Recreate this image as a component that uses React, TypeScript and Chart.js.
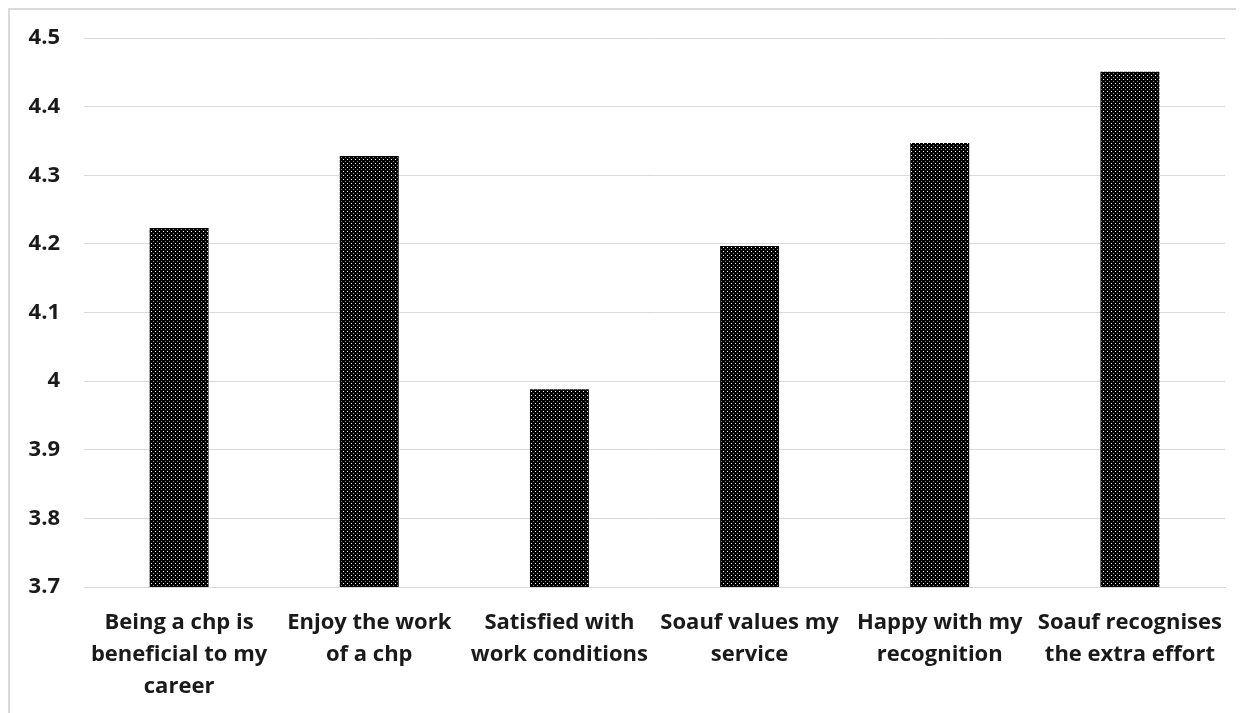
import React, { useEffect, useRef } from "react";
import { Chart, registerables } from "chart.js";

Chart.register(...registerables);

const categories: string[][] = [
  ["Being a chp is", "beneficial to my", "career"],
  ["Enjoy the work", "of a chp"],
  ["Satisfied with", "work conditions"],
  ["Soauf values my", "service"],
  ["Happy with my", "recognition"],
  ["Soauf recognises", "the extra effort"],
];
const values: number[] = [4.223, 4.328, 3.988, 4.197, 4.347, 4.451];
const yMin = 3.7;
const yMax = 4.5;
const yStep = 0.1;

function makePattern(): CanvasPattern | string {
  const c = document.createElement("canvas");
  c.width = 4;
  c.height = 4;
  const g = c.getContext("2d");
  if (!g) return "#000";
  g.fillStyle = "#000000";
  g.fillRect(0, 0, 4, 4);
  g.fillStyle = "#ffffff";
  g.fillRect(1, 1, 1, 1);
  g.fillStyle = "#7a7a7a";
  g.fillRect(3, 3, 1, 1);
  const p = g.createPattern(c, "repeat");
  return p || "#000";
}

export default function App() {
  const ref = useRef<HTMLCanvasElement | null>(null);
  useEffect(() => {
    document.body.style.overflow = "hidden";
    if (!ref.current) return;
    const font = { family: "'Open Sans', Lato, sans-serif", size: 22, weight: "bold" as const };
    const chart = new Chart(ref.current, {
      type: "bar",
      data: {
        labels: categories,
        datasets: [
          {
            data: values,
            backgroundColor: makePattern(),
            borderWidth: 0,
            barPercentage: 0.31,
            categoryPercentage: 1,
          },
        ],
      },
      options: {
        animation: false,
        responsive: false,
        maintainAspectRatio: false,
        layout: { autoPadding: false, padding: { top: 28, right: 19, left: 0, bottom: 0 } },
        plugins: { legend: { display: false }, tooltip: { enabled: false } },
        scales: {
          x: {
            grid: { display: false, drawTicks: false },
            border: { display: true, color: "#d9d9d9", width: 1 },
            ticks: {
              color: "#1a1a1a",
              font: { ...font, lineHeight: 1.45 },
              padding: 20,
              maxRotation: 0,
              minRotation: 0,
              autoSkip: false,
            },
            afterFit: (s: any) => {
              s.height = 126;
              s.paddingTop = 0;
              s.paddingBottom = 0;
            },
          },
          y: {
            min: yMin,
            max: yMax,
            grid: { color: "#d9d9d9", lineWidth: 1, drawTicks: false },
            border: { display: false },
            ticks: {
              stepSize: yStep,
              color: "#1a1a1a",
              font,
              padding: 24,
              callback: (v: any) => {
                const n = Math.round(Number(v) * 10) / 10;
                return String(n);
              },
            },
            afterFit: (s: any) => {
              s.width = 74;
              s.paddingTop = 0;
              s.paddingBottom = 0;
            },
          },
        },
      },
    });
    return () => chart.destroy();
  }, []);
  return (
    <div style={{ width: 1236, height: 720, overflow: "hidden", position: "relative" }}>
      <div
        style={{
          position: "absolute",
          left: 0,
          top: 0,
          width: 1300,
          height: 800,
          borderTop: "2px solid #d9d9d9",
          borderLeft: "2px solid #d9d9d9",
        }}
      />
      <canvas
        ref={ref}
        width={1234}
        height={703}
        style={{ position: "absolute", left: 2, top: 2, width: 1234, height: 703 }}
      />
    </div>
  );
}
